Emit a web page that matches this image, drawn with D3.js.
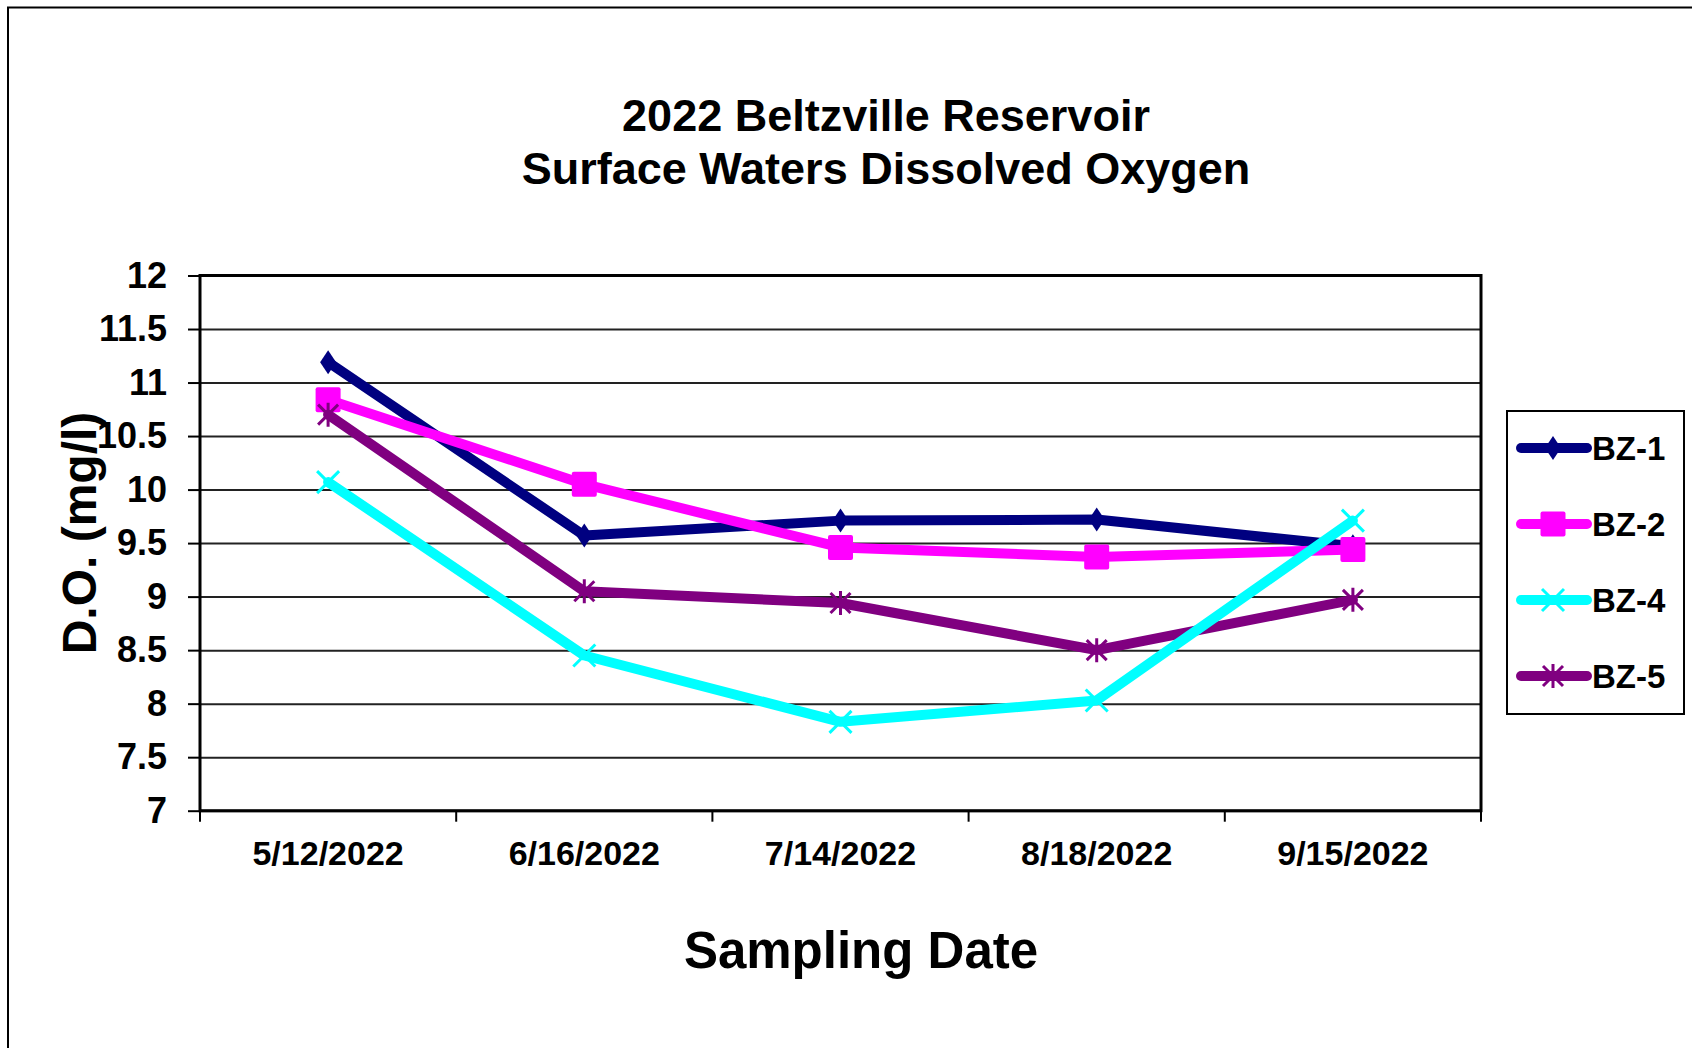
<!DOCTYPE html>
<html>
<head>
<meta charset="utf-8">
<script src="https://cdn.jsdelivr.net/npm/d3@7"></script>
<style>
  html, body { margin: 0; padding: 0; background: #fff; }
  svg { display: block; }
  text { font-family: "Liberation Sans", Arial, sans-serif; font-weight: bold; fill: #000; }
</style>
</head>
<body>
<svg id="chart" width="1692" height="1048"></svg>
<script>
const categories = ["5/12/2022", "6/16/2022", "7/14/2022", "8/18/2022", "9/15/2022"];
const seriesNames = ["BZ-1", "BZ-2", "BZ-4", "BZ-5"];
const bz1 = [11.19, 9.57, 9.71, 9.72, 9.47];
const bz2 = [10.84, 10.05, 9.46, 9.37, 9.44];
const bz4 = [10.07, 8.45, 7.83, 8.03, 9.71];
const bz5 = [10.70, 9.05, 8.94, 8.50, 8.97];
const yTicks = [7, 7.5, 8, 8.5, 9, 9.5, 10, 10.5, 11, 11.5, 12];
const titleLines = ["2022 Beltzville Reservoir", "Surface Waters Dissolved Oxygen"];

const colors = { "BZ-1": "#000080", "BZ-2": "#FF00FF", "BZ-4": "#00FFFF", "BZ-5": "#800080" };
const markers = { "BZ-1": "diamond", "BZ-2": "square", "BZ-4": "x", "BZ-5": "star" };
const seriesData = { "BZ-1": bz1, "BZ-2": bz2, "BZ-4": bz4, "BZ-5": bz5 };
const drawOrder = ["BZ-1", "BZ-2", "BZ-5", "BZ-4"];

const svg = d3.select("#chart");
const L = 200, R = 1481, T = 275.5, B = 810.7;

// outer border (top and left visible)
svg.append("path").attr("d", `M8,1048 L8,7.5 L1692,7.5`).attr("fill", "none").attr("stroke", "#000").attr("stroke-width", 2);

const x = d3.scaleBand().domain(categories).range([L, R]);
const y = d3.scaleLinear().domain([7, 12]).range([B, T]);

// gridlines
const grid = svg.append("g").attr("transform", `translate(${L},0)`)
  .call(d3.axisLeft(y).tickValues(yTicks).tickSize(-(R - L)).tickFormat(""));
grid.select(".domain").remove();
grid.selectAll("line").attr("stroke", "#222").attr("stroke-width", 2);

// y axis ticks + labels
const yAxis = svg.append("g").attr("transform", `translate(${L},0)`)
  .call(d3.axisLeft(y).tickValues(yTicks).tickSize(12).tickPadding(21).tickFormat(d => String(d)));
yAxis.select(".domain").remove();
yAxis.selectAll("line").attr("stroke", "#000").attr("stroke-width", 2);
yAxis.selectAll("text").attr("font-size", 36).attr("font-family", '"Liberation Sans", Arial, sans-serif')
  .attr("font-weight", "bold").attr("fill", "#000");

// x axis ticks at category boundaries
const bounds = categories.map(c => x(c)).concat([x(categories[categories.length - 1]) + x.bandwidth()]);
svg.append("g").selectAll("line").data(bounds).join("line")
  .attr("x1", d => d).attr("x2", d => d).attr("y1", B).attr("y2", B + 11)
  .attr("stroke", "#000").attr("stroke-width", 2);
svg.append("g").selectAll("text").data(categories).join("text")
  .attr("x", d => x(d) + x.bandwidth() / 2).attr("y", 865)
  .attr("text-anchor", "middle").attr("font-size", 34).text(d => d);

// plot frame
svg.append("rect").attr("x", L).attr("y", T).attr("width", R - L).attr("height", B - T)
  .attr("fill", "none").attr("stroke", "#000").attr("stroke-width", 3);

// markers
function drawMarker(g, type, cx, cy, color) {
  if (type === "diamond") {
    g.append("path").attr("d", `M${cx},${cy - 12} L${cx + 8},${cy} L${cx},${cy + 12} L${cx - 8},${cy} Z`).attr("fill", color);
  } else if (type === "square") {
    g.append("rect").attr("x", cx - 12.5).attr("y", cy - 12.5).attr("width", 25).attr("height", 25).attr("rx", 2).attr("fill", color);
  } else if (type === "x") {
    g.append("path").attr("d", `M${cx - 11},${cy - 11} L${cx + 11},${cy + 11} M${cx - 11},${cy + 11} L${cx + 11},${cy - 11}`)
      .attr("stroke", color).attr("stroke-width", 3).attr("fill", "none");
  } else if (type === "star") {
    g.append("path").attr("d", `M${cx - 10},${cy - 10} L${cx + 10},${cy + 10} M${cx - 10},${cy + 10} L${cx + 10},${cy - 10} M${cx},${cy - 12} L${cx},${cy + 12}`)
      .attr("stroke", color).attr("stroke-width", 3).attr("fill", "none");
  }
}

const line = d3.line().x((d, i) => x(categories[i]) + x.bandwidth() / 2).y(d => y(d));
drawOrder.forEach(name => {
  const g = svg.append("g");
  const vals = seriesData[name];
  g.append("path").datum(vals).attr("d", line).attr("fill", "none")
    .attr("stroke", colors[name]).attr("stroke-width", 10).attr("stroke-linejoin", "round").attr("stroke-linecap", "round");
  vals.forEach((v, i) => drawMarker(g, markers[name], x(categories[i]) + x.bandwidth() / 2, y(v), colors[name]));
});

// titles
svg.append("text").attr("x", 886).attr("y", 131).attr("text-anchor", "middle").attr("font-size", 45).text(titleLines[0]);
svg.append("text").attr("x", 886).attr("y", 184).attr("text-anchor", "middle").attr("font-size", 45).text(titleLines[1]);

// axis titles
svg.append("text").attr("transform", "translate(96,533) rotate(-90)").attr("text-anchor", "middle")
  .attr("font-size", 48).text("D.O. (mg/l)");
svg.append("text").attr("x", 861).attr("y", 968).attr("text-anchor", "middle").attr("font-size", 51).text("Sampling Date");

// legend
const lg = svg.append("g");
lg.append("rect").attr("x", 1507).attr("y", 411).attr("width", 177).attr("height", 303)
  .attr("fill", "#fff").attr("stroke", "#000").attr("stroke-width", 2);
seriesNames.forEach((name, i) => {
  const cy = 448 + i * 76;
  lg.append("line").attr("x1", 1521).attr("x2", 1587).attr("y1", cy).attr("y2", cy)
    .attr("stroke", colors[name]).attr("stroke-width", 10).attr("stroke-linecap", "round");
  drawMarker(lg, markers[name], 1553, cy, colors[name]);
  lg.append("text").attr("x", 1592).attr("y", cy + 12).attr("font-size", 33).text(name);
});
</script>
</body>
</html>
